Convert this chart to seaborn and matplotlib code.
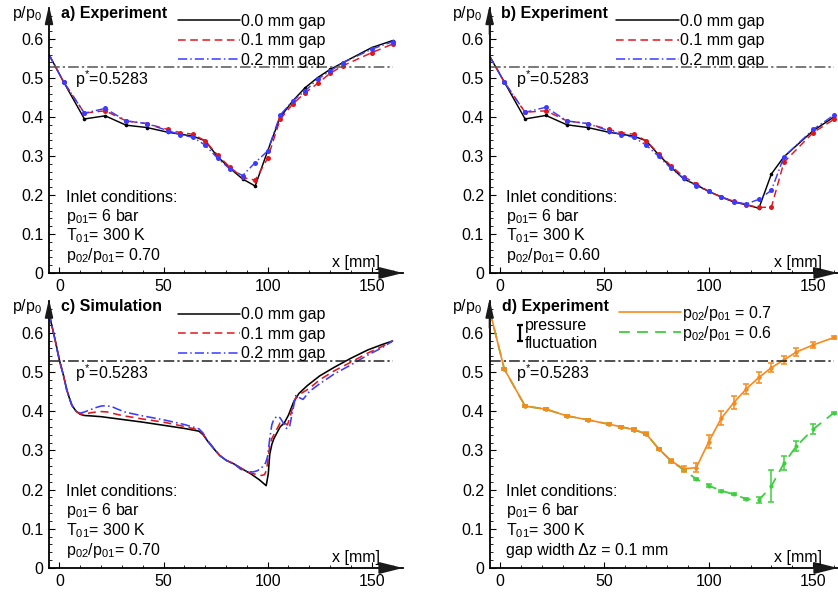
import numpy as np
import pandas as pd
import matplotlib
matplotlib.use("Agg")
import matplotlib.pyplot as plt
from matplotlib.lines import Line2D
import seaborn as sns

# ---------------- data ----------------
x_exp = [-5, 2, 12, 22, 32, 42, 52, 58, 64, 70, 76, 82, 88, 94, 100, 106, 112, 118, 124, 130, 136, 150, 160]

a_gap00 = [0.56, 0.49, 0.395, 0.403, 0.379, 0.373, 0.361, 0.356, 0.351, 0.339, 0.298, 0.268, 0.241, 0.223,
           0.313, 0.399, 0.441, 0.475, 0.501, 0.522, 0.539, 0.578, 0.596]
a_gap01 = [0.56, 0.49, 0.41, 0.416, 0.39, 0.383, 0.368, 0.36, 0.356, 0.339, 0.302, 0.271, 0.245, 0.238,
           0.294, 0.394, 0.433, 0.462, 0.486, 0.512, 0.531, 0.565, 0.587]
a_gap02 = [0.56, 0.49, 0.41, 0.422, 0.39, 0.383, 0.365, 0.355, 0.348, 0.328, 0.294, 0.266, 0.25, 0.283,
           0.313, 0.405, 0.441, 0.467, 0.497, 0.518, 0.539, 0.574, 0.593]

b_gap00 = [0.556, 0.49, 0.395, 0.404, 0.380, 0.373, 0.361, 0.356, 0.351, 0.339, 0.303, 0.271, 0.241, 0.226,
           0.209, 0.195, 0.182, 0.175, 0.166, 0.254, 0.298, 0.365, 0.40]
b_gap01 = [0.556, 0.49, 0.412, 0.416, 0.39, 0.383, 0.368, 0.36, 0.356, 0.339, 0.306, 0.274, 0.247, 0.229,
           0.209, 0.195, 0.184, 0.175, 0.168, 0.169, 0.284, 0.36, 0.394]
b_gap02 = [0.556, 0.49, 0.412, 0.425, 0.39, 0.383, 0.365, 0.355, 0.348, 0.328, 0.299, 0.268, 0.243, 0.224,
           0.209, 0.195, 0.182, 0.177, 0.189, 0.212, 0.298, 0.368, 0.405]

c_x00 = [-5, -2, 0, 2, 3.5, 5, 6, 8, 10, 12, 15, 20, 30, 40, 50, 60, 67, 69, 71, 74, 77, 80, 84, 88, 92, 96,
         99.3, 100.3, 101, 102, 103, 104.5, 106, 108, 110, 112.5, 115, 119, 125, 132, 140, 148, 155, 160]
c_y00 = [0.65, 0.58, 0.53, 0.49, 0.455, 0.43, 0.415, 0.40, 0.392, 0.389, 0.388, 0.386, 0.379, 0.372, 0.364,
         0.356, 0.349, 0.34, 0.325, 0.305, 0.287, 0.275, 0.265, 0.252, 0.24, 0.225, 0.21, 0.24, 0.29, 0.315,
         0.33, 0.345, 0.36, 0.37, 0.39, 0.424, 0.445, 0.465, 0.49, 0.512, 0.535, 0.556, 0.57, 0.579]
c_x01 = [-5, -2, 0, 2, 3.5, 5, 6, 8, 10, 12, 15, 18, 20, 23, 26, 30, 40, 50, 60, 67, 69, 71, 74, 77, 80, 84,
         88, 92, 95, 97, 98.5, 99.5, 100.2, 101, 102, 104, 106, 108, 109.5, 111, 113, 116, 120, 125, 132, 140,
         148, 155, 160]
c_y01 = [0.65, 0.58, 0.53, 0.49, 0.455, 0.43, 0.415, 0.40, 0.393, 0.392, 0.396, 0.398, 0.399, 0.398, 0.394,
         0.389, 0.38, 0.372, 0.361, 0.352, 0.342, 0.326, 0.306, 0.287, 0.275, 0.265, 0.252, 0.242, 0.238,
         0.236, 0.238, 0.25, 0.28, 0.31, 0.33, 0.35, 0.37, 0.37, 0.365, 0.39, 0.43, 0.445, 0.458, 0.48, 0.503,
         0.525, 0.548, 0.565, 0.579]
c_x02 = [-5, -2, 0, 2, 3.5, 5, 6, 8, 10, 12, 15, 18, 20, 22, 25, 28, 32, 40, 50, 60, 67, 69, 71, 74, 77, 80,
         84, 87, 90, 93, 95, 97, 99, 100, 101, 102, 103, 104.5, 106, 107.5, 109, 110.5, 112, 113.5, 115, 117,
         120, 125, 132, 140, 148, 155, 160]
c_y02 = [0.65, 0.58, 0.53, 0.49, 0.455, 0.43, 0.415, 0.40, 0.395, 0.398, 0.404, 0.41, 0.413, 0.414, 0.412,
         0.405, 0.397, 0.388, 0.378, 0.366, 0.355, 0.344, 0.326, 0.306, 0.287, 0.275, 0.265, 0.252, 0.246,
         0.245, 0.248, 0.255, 0.268, 0.285, 0.33, 0.365, 0.38, 0.387, 0.383, 0.37, 0.356, 0.36, 0.4, 0.44,
         0.435, 0.43, 0.45, 0.47, 0.495, 0.518, 0.543, 0.562, 0.579]

x_d = [-5, 2, 12, 22, 32, 42, 52, 58, 64, 70, 76, 82, 88, 94, 100, 106, 112, 118, 124, 130, 136, 142, 150, 160]
d_07 = [0.658, 0.508, 0.413, 0.405, 0.388, 0.378, 0.367, 0.360, 0.353, 0.342, 0.304, 0.273, 0.253, 0.256,
        0.322, 0.382, 0.422, 0.457, 0.486, 0.511, 0.531, 0.551, 0.569, 0.588]
d_07_err = [0, 0.002, 0.003, 0.003, 0.003, 0.003, 0.003, 0.003, 0.003, 0.004, 0.003, 0.004, 0.008, 0.012,
            0.016, 0.018, 0.017, 0.013, 0.013, 0.012, 0.01, 0.01, 0.008, 0.003]
d_06 = [0.658, 0.508, 0.413, 0.405, 0.388, 0.378, 0.367, 0.360, 0.353, 0.342, 0.304, 0.273, 0.25, 0.227,
        0.21, 0.197, 0.188, 0.176, 0.173, 0.209, 0.267, 0.311, 0.354, 0.396]
d_06_err = [0, 0.002, 0.003, 0.003, 0.003, 0.003, 0.003, 0.003, 0.003, 0.003, 0.003, 0.003, 0.003, 0.003,
            0.003, 0.003, 0.003, 0.003, 0.007, 0.04, 0.018, 0.013, 0.013, 0.003]

gap_labels = ["0.0 mm gap", "0.1 mm gap", "0.2 mm gap"]
y_ticks = [0, 0.1, 0.2, 0.3, 0.4, 0.5, 0.6]
y_ticklabels = ["0", "0.1", "0.2", "0.3", "0.4", "0.5", "0.6"]
x_ticks = [0, 50, 100, 150]

# ---------------- style ----------------
sns.set_theme(style="ticks")
plt.rcParams["font.family"] = ["Liberation Sans", "DejaVu Sans"]
plt.rcParams["mathtext.fontset"] = "custom"
plt.rcParams["mathtext.rm"] = "Liberation Sans"
plt.rcParams["mathtext.it"] = "Liberation Sans:italic"
plt.rcParams["mathtext.bf"] = "Liberation Sans:bold"
plt.rcParams["mathtext.default"] = "regular"
plt.rcParams["text.color"] = "black"
plt.rcParams["xtick.color"] = "black"
plt.rcParams["ytick.color"] = "black"

FS = 11.5
BLACK = "#000000"
RED = "#e0161e"
BLUE = "#3b3bff"
ORANGE = "#f78a1d"
GREEN = "#3dcf3d"
LS_RED = (0, (5, 3))
LS_BLUE = (0, (6, 2, 1, 2))
LS_GREEN = (0, (6, 4))

W, H = 838, 592
fig = plt.figure(figsize=(W / 100, H / 100), dpi=100)
axA = fig.add_axes([49 / W, (H - 273) / H, 354 / W, 265.2 / H])
axB = fig.add_axes([489.6 / W, (H - 273) / H, (W - 489.6) / W, 265.2 / H])
axC = fig.add_axes([49 / W, 24 / H, 354 / W, 266.6 / H])
axD = fig.add_axes([489.6 / W, 24 / H, (W - 489.6) / W, 266.6 / H])


def style(ax, xmax, pline="#555555"):
    ax.set_xlim(-5, xmax)
    ax.set_ylim(0, 0.68)
    for s in ["top", "right"]:
        ax.spines[s].set_visible(False)
    for s in ["left", "bottom"]:
        ax.spines[s].set_linewidth(1.3)
        ax.spines[s].set_color("black")
    ax.set_xticks(x_ticks)
    ax.set_xticks(np.arange(0, 161, 10), minor=True)
    ax.set_yticks(y_ticks)
    ax.set_yticklabels(y_ticklabels)
    ax.set_yticks(np.arange(0, 0.661, 0.02), minor=True)
    ax.tick_params(which="major", direction="in", length=4, width=0.8, labelsize=FS, pad=4)
    ax.tick_params(which="minor", direction="in", length=2, width=0.6)
    ax.set_xlabel("")
    ax.set_ylabel("")
    ax.annotate("", xy=(1.0, 0), xytext=(0.9, 0), xycoords="axes fraction",
                arrowprops=dict(arrowstyle="-|>,head_length=1.2,head_width=0.3", color="k", lw=1.3,
                                shrinkA=0, shrinkB=0), annotation_clip=False)
    ax.annotate("", xy=(0, 1.01), xytext=(0, 0.9), xycoords="axes fraction",
                arrowprops=dict(arrowstyle="-|>,head_length=0.9,head_width=0.2", color="k", lw=1.3,
                                shrinkA=0, shrinkB=0), annotation_clip=False)
    ax.text(-0.02, 0.666, r"p/p$_0$", transform=ax.get_yaxis_transform(), ha="right", va="center",
            fontsize=FS)
    ax.hlines(0.5283, -5, 160, color=pline, lw=1.1, linestyles=[(0, (7, 2, 1.5, 2))])
    ax.text(7.5, 0.482, r"p$^{*}$=0.5283", fontsize=FS, va="baseline")
    ax.text(154, 0.016, "x [mm]", fontsize=FS, ha="right", va="baseline")


def gap_legend(ax, x0=0.364):
    handles = [Line2D([], [], color=BLACK, lw=1.1),
               Line2D([], [], color=RED, lw=1.1, ls=LS_RED),
               Line2D([], [], color=BLUE, lw=1.1, ls=LS_BLUE)]
    ax.legend(handles, gap_labels, loc="upper left", bbox_to_anchor=(x0, 0.978), frameon=False,
              fontsize=FS, handlelength=3.9, handletextpad=0.05, labelspacing=0.28, borderpad=0,
              borderaxespad=0)


def inlet_text(ax, last):
    ax.text(3, 0.183, "Inlet conditions:", fontsize=FS, va="baseline")
    ax.text(3, 0.134, r"p$_{01}$= 6 bar", fontsize=FS, va="baseline")
    ax.text(3, 0.083, r"T$_{01}$= 300 K", fontsize=FS, va="baseline")
    ax.text(3, 0.033, last, fontsize=FS, va="baseline")


def exp_panel(ax, ys, title, ratio, xmax):
    df = pd.DataFrame({"x": x_exp * 3, "p": ys[0] + ys[1] + ys[2],
                       "gap": sum([[g] * len(x_exp) for g in gap_labels], [])})
    specs = [(BLACK, "-", 2.6), (RED, LS_RED, 3.6), (BLUE, LS_BLUE, 3.6)]
    for g, (c, ls, ms) in zip(gap_labels, specs):
        sub = df[df["gap"] == g]
        sns.lineplot(data=sub, x="x", y="p", ax=ax, color=c, lw=1.05, linestyle=ls, marker="o",
                     markersize=ms, markeredgewidth=0, markevery=slice(1, None), estimator=None,
                     sort=False, legend=False)
    style(ax, xmax)
    gap_legend(ax)
    ax.text(0.6, 0.666, title, fontsize=FS, fontweight="bold", va="center")
    inlet_text(ax, r"p$_{02}$/p$_{01}$= " + ratio)


exp_panel(axA, [a_gap00, a_gap01, a_gap02], "a) Experiment", "0.70", 165)
exp_panel(axB, [b_gap00, b_gap01, b_gap02], "b) Experiment", "0.60", 161.9)

# ---- panel c (simulation) ----
for xs, ys, c, ls in [(c_x00, c_y00, BLACK, "-"), (c_x01, c_y01, RED, LS_RED), (c_x02, c_y02, BLUE, LS_BLUE)]:
    sns.lineplot(x=xs, y=ys, ax=axC, color=c, lw=1.15, linestyle=ls, estimator=None, sort=False, legend=False)
style(axC, 165, pline="#222222")
gap_legend(axC)
axC.text(0.6, 0.666, "c) Simulation", fontsize=FS, fontweight="bold", va="center")
inlet_text(axC, r"p$_{02}$/p$_{01}$= 0.70")

# ---- panel d ----
sns.lineplot(x=x_d, y=d_06, ax=axD, color=GREEN, lw=1.3, linestyle=LS_GREEN, marker="o", markersize=3.0,
             markeredgewidth=0, markevery=slice(1, None), estimator=None, sort=False, legend=False)
axD.errorbar(x_d[1:], d_06[1:], yerr=d_06_err[1:], fmt="none", ecolor=GREEN, elinewidth=1.1, capsize=2.5,
             capthick=1.1)
sns.lineplot(x=x_d, y=d_07, ax=axD, color=ORANGE, lw=1.2, linestyle="-", marker="o", markersize=3.2,
             markeredgewidth=0, markevery=slice(1, None), estimator=None, sort=False, legend=False)
axD.errorbar(x_d[1:], d_07[1:], yerr=d_07_err[1:], fmt="none", ecolor=ORANGE, elinewidth=1.1, capsize=2.5,
             capthick=1.1)
style(axD, 161.9, pline="#222222")
axD.text(0.8, 0.666, "d) Experiment", fontsize=FS, fontweight="bold", va="center")
axD.errorbar([9.6], [0.599], yerr=[0.021], fmt="none", ecolor="black", elinewidth=1.6, capsize=2.5,
             capthick=1.6)
axD.text(12.0, 0.618, "pressure", fontsize=FS, va="center")
axD.text(12.0, 0.572, "fluctuation", fontsize=FS, va="center")
hd = [Line2D([], [], color=ORANGE, lw=1.2), Line2D([], [], color=GREEN, lw=1.3, ls=LS_GREEN)]
axD.legend(hd, [r"p$_{02}$/p$_{01}$ = 0.7", r"p$_{02}$/p$_{01}$ = 0.6"], loc="upper left",
           bbox_to_anchor=(0.371, 0.99), frameon=False, fontsize=FS, handlelength=3.9, handletextpad=0.05,
           labelspacing=0.05, borderpad=0, borderaxespad=0)
axD.text(3, 0.183, "Inlet conditions:", fontsize=FS, va="baseline")
axD.text(3, 0.134, r"p$_{01}$= 6 bar", fontsize=FS, va="baseline")
axD.text(3, 0.083, r"T$_{01}$= 300 K", fontsize=FS, va="baseline")
axD.text(3, 0.033, "gap width \u0394z = 0.1 mm", fontsize=FS, va="baseline")

fig.savefig("out.png", dpi=100)
